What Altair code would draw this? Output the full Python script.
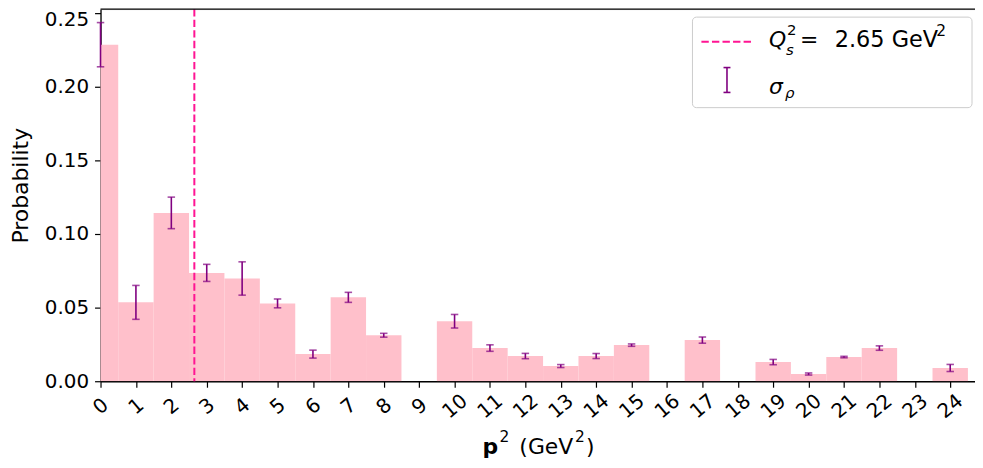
import altair as alt
import pandas as pd

# ---- data ----
p2 = list(range(25))
probability = [0.2283, 0.0535, 0.1142, 0.0735, 0.0697, 0.0528, 0.0184, 0.0569, 0.0312, 0.0,
               0.0407, 0.0225, 0.0171, 0.0103, 0.0171, 0.0245, 0.0, 0.0279, 0.0, 0.0130,
               0.0049, 0.0164, 0.0225, 0.0, 0.0090]
sigma = [0.0150, 0.0115, 0.0107, 0.0058, 0.0113, 0.0030, 0.0027, 0.0034, 0.0013, 0.0,
         0.0046, 0.0022, 0.0018, 0.0010, 0.0017, 0.0008, 0.0, 0.0021, 0.0, 0.0018,
         0.0007, 0.0005, 0.0015, 0.0, 0.0024]
qs2 = [2.65]
y_ticks = [0.0, 0.05, 0.10, 0.15, 0.20, 0.25]

W, H = 879, 374
FONT = "DejaVu Sans"
PINK = "#ffc0cb"
DEEPPINK = "#ff1493"
PURPLE = "#800080"

df = pd.DataFrame({"p2": p2, "prob": probability, "sigma": sigma})
df["lo"] = df["p2"] - 0.5
df["hi"] = df["p2"] + 0.5
df["elo"] = df["prob"] - df["sigma"]
df["ehi"] = df["prob"] + df["sigma"]

xs = alt.Scale(domain=[0, 24.7], nice=False, zero=False)
ys = alt.Scale(domain=[0, 0.2524], nice=False, zero=False)

bars = alt.Chart(df).mark_rect(color=PINK, clip=True).encode(
    x=alt.X("lo:Q", scale=xs, axis=alt.Axis(
        values=p2, title=None, labelAngle=-40, labelAlign="center", labelBaseline="middle",
        labelPadding=19, labelFontSize=20, labelFont=FONT, labelColor="black",
        tickSize=6, tickColor="black", tickWidth=1.2, domainColor="black", domainWidth=1.3,
        grid=False, labelOverlap=False)),
    x2="hi:Q",
    y=alt.Y("prob:Q", scale=ys, axis=alt.Axis(
        values=y_ticks, format=".2f", title="Probability", titleFont=FONT, titleFontSize=22,
        titleFontWeight="normal", titleColor="black", titleX=-80, titleY=177,
        titleBaseline="middle", titleAngle=270,
        labelFontSize=20, labelFont=FONT, labelColor="black", labelPadding=6,
        labelOffset={"condition": {"test": "datum.value >= 0.249", "value": 7}, "value": 0},
        tickSize=6, tickColor="black", tickWidth=1.2, domainColor="black", domainWidth=1.3,
        grid=False)),
    y2=alt.datum(0),
)

qline = alt.Chart(pd.DataFrame({"q": qs2})).mark_rule(
    color=DEEPPINK, strokeDash=[7.4, 3.2], strokeWidth=2).encode(
    x=alt.X("q:Q", scale=xs, axis=None))

err_src = alt.Chart(df).transform_filter("datum.sigma > 0")
err_rule = err_src.mark_rule(color=PURPLE, strokeWidth=1.6).encode(
    x=alt.X("p2:Q", scale=xs, axis=None),
    y=alt.Y("elo:Q", scale=ys, axis=None), y2="ehi:Q")
cap_lo = err_src.mark_tick(color=PURPLE, orient="horizontal", size=7.5, thickness=1.6).encode(
    x=alt.X("p2:Q", scale=xs, axis=None), y=alt.Y("elo:Q", scale=ys, axis=None))
cap_hi = err_src.mark_tick(color=PURPLE, orient="horizontal", size=7.5, thickness=1.6).encode(
    x=alt.X("p2:Q", scale=xs, axis=None), y=alt.Y("ehi:Q", scale=ys, axis=None))

one = pd.DataFrame({"a": [0]})

def txt(t, x, y, size, align="left", style="normal", weight="normal", baseline="alphabetic"):
    return alt.Chart(one).mark_text(
        text=t, align=align, baseline=baseline, font=FONT, fontSize=size,
        fontStyle=style, fontWeight=weight, color="black").encode(
        x=alt.value(x), y=alt.value(y))

def hrule(x1, x2, y, **kw):
    return alt.Chart(one).mark_rule(**kw).encode(x=alt.value(x1), x2=alt.value(x2), y=alt.value(y))

def vrule(x, y1, y2, **kw):
    return alt.Chart(one).mark_rule(**kw).encode(x=alt.value(x), y=alt.value(y1), y2=alt.value(y2))

top_spine = hrule(0, W, 0, color="black", strokeWidth=1.3)

# legend
box = alt.Chart(one).mark_rect(fill="white", fillOpacity=0.85, stroke="#cccccc",
                               strokeWidth=1, cornerRadius=4).encode(
    x=alt.value(595), x2=alt.value(876), y=alt.value(8), y2=alt.value(99))
leg_dash = hrule(604, 654, 32.7, color=DEEPPINK, strokeDash=[7.4, 3.2], strokeWidth=2)
leg_err = vrule(629.7, 58.7, 83.7, color=PURPLE, strokeWidth=1.6)
leg_cap1 = hrule(626.2, 633.2, 58.7, color=PURPLE, strokeWidth=1.6)
leg_cap2 = hrule(626.2, 633.2, 83.7, color=PURPLE, strokeWidth=1.6)
leg_q = txt("Q", 672, 38, 22, style="italic")
leg_q_sup = txt("2", 690, 26, 15)
leg_q_sub = txt("s", 689, 46, 15, style="italic")
leg_eq = txt("=", 703, 38, 22)
leg_val = txt("2.65 GeV", 738, 38, 22.5)
leg_val_sup = txt("2", 840, 27, 15.5)
leg_sig = txt("σ", 672, 85, 22, style="italic")
leg_rho = txt("ρ", 688, 89, 15, style="italic")

# x title
xt_p = txt("p", 384, 447, 22, weight="bold")
xt_p_sup = txt("2", 401, 435, 15.5)
xt_u = txt("(GeV", 421, 447, 22)
xt_u_sup = txt("2", 477, 435, 15.5)
xt_u_end = txt(")", 488, 447, 22)

chart = alt.layer(
    bars, qline, err_rule, cap_lo, cap_hi, top_spine,
    box, leg_dash, leg_err, leg_cap1, leg_cap2,
    leg_q, leg_q_sup, leg_q_sub, leg_eq, leg_val, leg_val_sup, leg_sig, leg_rho,
    xt_p, xt_p_sup, xt_u, xt_u_sup, xt_u_end,
).resolve_axis(x="independent", y="independent").properties(
    width=W, height=H,
    autosize=alt.AutoSizeParams(type="none"),
    padding={"left": 93, "top": 0, "right": 0, "bottom": 78},
).configure_view(stroke=None).configure(background="white")

chart.save("out.html", embed_options={"renderer": "svg", "actions": False})
